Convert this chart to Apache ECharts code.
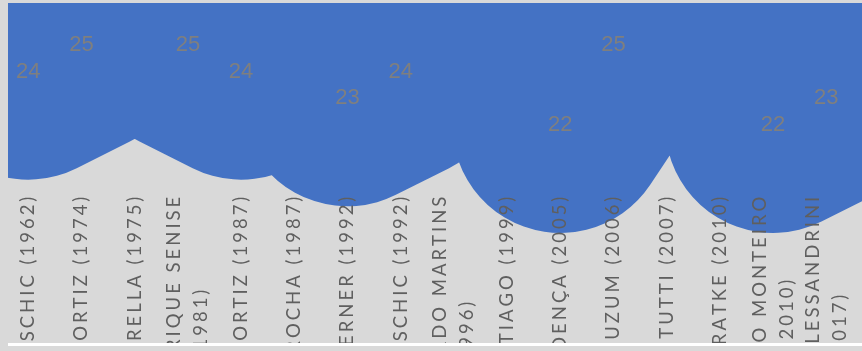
<!DOCTYPE html>
<html>
<head>
<meta charset="utf-8">
<script src="https://cdn.jsdelivr.net/npm/echarts@6/dist/echarts.min.js"></script>
<style>
  html, body { margin: 0; padding: 0; background: #d9d9d9; overflow: hidden; }
  #chart { width: 862px; height: 351px; }
</style>
</head>
<body>
<div id="chart"></div>
<script>
// Names (with year) shown along the category axis
const categories = [
  'SCHIC (1962)', 'ORTIZ (1974)', 'RELLA (1975)', 'RIQUE SENISE\n(1981)',
  'ORTIZ (1987)', 'ROCHA (1987)', 'ERNER (1992)', 'SCHIC (1992)',
  'RDO MARTINS\n(1996)', 'TIAGO (1999)', 'DENÇA (2005)', 'UZUM (2006)',
  'TUTTI (2007)', 'RATKE (2010)', 'O MONTEIRO\n(2010)', 'LESSANDRINI\n(2017)'
];
// Age for each entry; the unlabelled ones lie above the visible value range
const ages = [24, 25, 30, 25, 24, 30, 23, 24, 30, 30, 22, 25, 30, 30, 22, 23];

// Extra drop (px) for the year line of the wrapped names
const yearLineDrop = { 3: 93, 8: 105, 14: 83, 15: 98 };

const BLUE = '#4472C4';
const GREY = '#d9d9d9';
const TRACKING = 3;      // letter spacing of the axis captions
const LINE_H = 27;

// Split a caption into per-letter rich tokens so the letters can be spaced out
function track(s, endStyle) {
  const chars = Array.from(s);
  return chars.map(function (ch, i) {
    const style = i === chars.length - 1 ? endStyle : 't';
    return '{' + style + '|' + ch + '}';
  }).join('');
}

const rich = {
  t: { padding: [0, TRACKING, 0, 0], lineHeight: LINE_H },
  p: { lineHeight: LINE_H }
};
Object.keys(yearLineDrop).forEach(function (k) {
  rich['e' + k] = { padding: [0, yearLineDrop[k], 0, 0], lineHeight: LINE_H };
});

const chart = echarts.init(document.getElementById('chart'), null, { renderer: 'canvas' });
chart.setOption({
  animation: false,
  backgroundColor: GREY,
  grid: {
    left: 1.7, right: 9.1, top: 2.33, bottom: 212.7,
    containLabel: false, outerBoundsMode: 'none'
  },
  xAxis: {
    type: 'category',
    data: categories,
    boundaryGap: true,
    z: 5,
    axisLine: { show: false },
    axisTick: { show: false },
    splitLine: { show: false },
    axisLabel: {
      interval: 0,
      rotate: 90,
      margin: 58.4,
      hideOverlap: false,
      color: '#5f5f5f',
      fontSize: 18.5,
      lineHeight: LINE_H,
      fontFamily: 'Lato, "Open Sans", sans-serif',
      rich: rich,
      formatter: function (value, idx) {
        const lines = value.split('\n');
        let out = track(lines[0], 'p');
        if (lines[1]) out += '\n' + track(lines[1], 'e' + idx);
        return out;
      }
    }
  },
  yAxis: {
    type: 'value',
    min: 21.5,
    max: 26.6,
    show: false,
    splitLine: { show: false }
  },
  series: [{
    type: 'line',
    data: ages,
    clip: false,
    silent: true,
    symbol: 'circle',
    symbolSize: 1,
    itemStyle: { color: BLUE },
    lineStyle: { color: BLUE, width: 216, cap: 'round', join: 'round' },
    label: {
      show: true,
      position: 'inside',
      color: '#7f7f7f',
      fontSize: 22,
      fontFamily: 'Liberation Sans, Arial, sans-serif',
      formatter: function (p) { return p.value; }
    },
    emphasis: { disabled: true }
  }],
  graphic: [
    { type: 'rect', z: 100, silent: true, shape: { x: 0, y: 0, width: 862, height: 3 }, style: { fill: GREY } },
    { type: 'rect', z: 100, silent: true, shape: { x: 0, y: 0, width: 8, height: 351 }, style: { fill: GREY } },
    { type: 'rect', z: 100, silent: true, shape: { x: 8, y: 343, width: 854, height: 3 }, style: { fill: '#ffffff' } },
    { type: 'rect', z: 100, silent: true, shape: { x: 0, y: 346, width: 862, height: 5 }, style: { fill: GREY } }
  ]
});
</script>
</body>
</html>
